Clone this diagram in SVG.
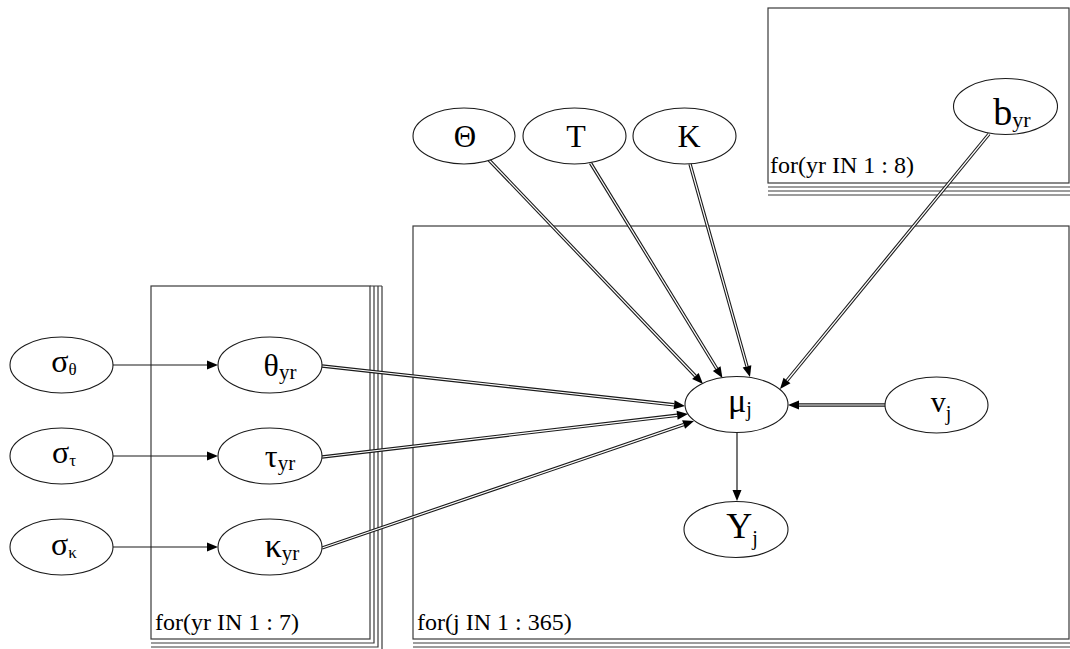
<svg xmlns="http://www.w3.org/2000/svg" width="1070" height="649" viewBox="0 0 1070 649">
<style>
.plate{fill:none;stroke:#3a3a3a;stroke-width:1.2}
.node ellipse{fill:#fff;stroke:#1a1a1a;stroke-width:1.1}
.lbl{fill:#000;text-anchor:middle}
.ptxt{fill:#000;font-size:24px}
text{font-family:'Liberation Serif','Times New Roman',serif}
.dbl{fill:none;stroke:#1a1a1a;stroke-width:3.4}
.gap{fill:none;stroke:#fff;stroke-width:1.2}
.sgl{fill:none;stroke:#1a1a1a;stroke-width:1.2}
</style>
<defs>
<marker id="ah" markerUnits="userSpaceOnUse" orient="auto" refX="0" refY="0" markerWidth="12" markerHeight="10" overflow="visible">
<path d="M0,-4.5 L11,0 L0,4.5 z" fill="#000"/>
</marker>
</defs>
<rect width="1070" height="649" fill="#fff"/>

<g id="plate-yr8">
<rect class="plate" x="768" y="8" width="301" height="175"/>
<path class="plate" d="M768,187H1073 M768,191H1077 M768,195H1081"/>
<text class="ptxt" x="770" y="173">for(yr IN 1 : 8)</text>
</g>
<g id="plate-yr7">
<rect class="plate" x="151" y="286" width="219" height="353"/>
<path class="plate" d="M370,286H382 M374,286V643H151 M378,286V647H151 M382,286V651H151"/>
<text class="ptxt" x="155" y="630">for(yr IN 1 : 7)</text>
</g>
<g id="plate-j">
<rect class="plate" x="413" y="226" width="656" height="413"/>
<path class="plate" d="M413,643H1073 M413,647H1077"/>
<text class="ptxt" x="417" y="630">for(j IN 1 : 365)</text>
</g>

<g id="connectors">
<path class="dbl" d="M489,160L695.4,376" marker-end="url(#ah)"/><path class="gap" d="M489,160L695.4,376"/>
<path class="dbl" d="M590.5,163L716.7,368.6" marker-end="url(#ah)"/><path class="gap" d="M590.5,163L716.7,368.6"/>
<path class="dbl" d="M690,164L747,366.4" marker-end="url(#ah)"/><path class="gap" d="M690,164L747,366.4"/>
<path class="dbl" d="M989,134L787,380.5" marker-end="url(#ah)"/><path class="gap" d="M989,134L787,380.5"/>
<path class="dbl" d="M322,366L674.1,404.8" marker-end="url(#ah)"/><path class="gap" d="M322,366L674.1,404.8"/>
<path class="dbl" d="M322,457L677.1,415.3" marker-end="url(#ah)"/><path class="gap" d="M322,457L677.1,415.3"/>
<path class="dbl" d="M322,548L683.6,424.6" marker-end="url(#ah)"/><path class="gap" d="M322,548L683.6,424.6"/>
<path class="dbl" d="M885,405L799,405" marker-end="url(#ah)"/><path class="gap" d="M885,405L799,405"/>
<path class="sgl" d="M113,365H207" marker-end="url(#ah)"/>
<path class="sgl" d="M113,456H207" marker-end="url(#ah)"/>
<path class="sgl" d="M113,547H207" marker-end="url(#ah)"/>
<path class="sgl" d="M737,433V490" marker-end="url(#ah)"/>
</g>

<g id="node-Theta" class="node"><ellipse cx="464" cy="136" rx="51" ry="28"/><text class="lbl" x="465" y="147" font-size="31">Θ</text></g>
<g id="node-T" class="node"><ellipse cx="574.5" cy="136" rx="51.5" ry="28"/><text class="lbl" x="576" y="147" font-size="32">T</text></g>
<g id="node-K" class="node"><ellipse cx="684.5" cy="136" rx="51.5" ry="28"/><text class="lbl" x="689" y="147" font-size="32">K</text></g>
<g id="node-b" class="node"><ellipse cx="1005.5" cy="106.5" rx="52" ry="28"/><text class="lbl" x="1012" y="125" font-size="38">b<tspan font-size="22" dy="2">yr</tspan></text></g>

<g id="node-sigma-theta" class="node"><ellipse cx="61.5" cy="365" rx="51.5" ry="28"/><text class="lbl" x="64" y="372" font-size="32">σ<tspan font-size="17" dy="3">θ</tspan></text></g>
<g id="node-sigma-tau" class="node"><ellipse cx="61.5" cy="456" rx="51.5" ry="28"/><text class="lbl" x="64" y="463" font-size="32">σ<tspan font-size="17" dy="3">τ</tspan></text></g>
<g id="node-sigma-kappa" class="node"><ellipse cx="61.5" cy="547" rx="51.5" ry="28"/><text class="lbl" x="64" y="555" font-size="32">σ<tspan font-size="17" dy="3">κ</tspan></text></g>

<g id="node-theta" class="node"><ellipse cx="270" cy="365" rx="52" ry="28"/><text class="lbl" x="280" y="376" font-size="32">θ<tspan font-size="21" dy="3">yr</tspan></text></g>
<g id="node-tau" class="node"><ellipse cx="270" cy="456" rx="52" ry="28"/><text class="lbl" x="280" y="467" font-size="32">τ<tspan font-size="21" dy="3">yr</tspan></text></g>
<g id="node-kappa" class="node"><ellipse cx="270" cy="547" rx="52" ry="28"/><text class="lbl" x="282" y="557" font-size="34">κ<tspan font-size="21" dy="3">yr</tspan></text></g>

<g id="node-mu" class="node"><ellipse cx="736.5" cy="404.5" rx="51.5" ry="28"/><text class="lbl" x="740" y="412" font-size="34">μ<tspan font-size="20" dy="4">j</tspan></text></g>
<g id="node-v" class="node"><ellipse cx="936.5" cy="405" rx="51.5" ry="28"/><text class="lbl" x="941" y="412" font-size="30">v<tspan font-size="20" dy="8">j</tspan></text></g>
<g id="node-Y" class="node"><ellipse cx="736" cy="529.5" rx="52" ry="28"/><text class="lbl" x="742" y="538" font-size="36">Y<tspan font-size="20" dy="7">j</tspan></text></g>
</svg>
